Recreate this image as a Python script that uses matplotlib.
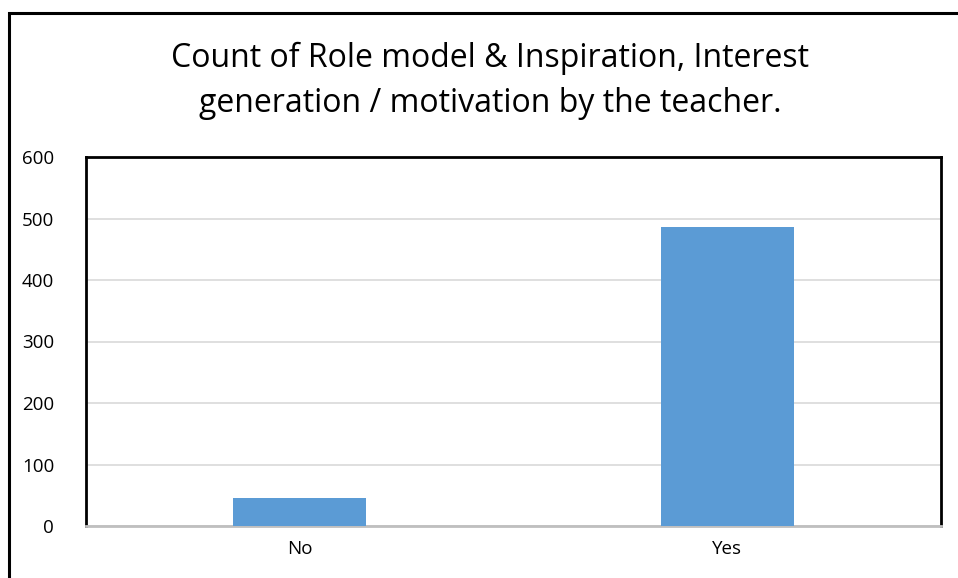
import matplotlib.pyplot as plt
from matplotlib.patches import Rectangle

# data
categories = ["No", "Yes"]
counts = [46, 486]
yticks = [0, 100, 200, 300, 400, 500, 600]

plt.rcParams['font.family'] = ['Open Sans', 'DejaVu Sans']

W, H = 958, 578
fig = plt.figure(figsize=(W / 100, H / 100), dpi=100)

# outer chart border (runs off the right and bottom edges)
fig.patches.append(Rectangle((9 / W, -0.1), 1.2, 1 - 13 / H + 0.1,
                             transform=fig.transFigure, fill=False,
                             edgecolor='black', linewidth=2.2))

left, right, top, bottom = 86, 941, 157, 526
ax = fig.add_axes([left / W, 1 - bottom / H, (right - left) / W, (bottom - top) / H])

ax.bar(range(len(categories)), counts, width=0.31, color='#5B9BD5', zorder=3)
ax.set_xlim(-0.5, 1.5)
ax.set_ylim(0, 600)
ax.set_yticks(yticks)
ax.set_xticks(range(len(categories)))
ax.set_xticklabels(categories)
ax.yaxis.grid(True, color='#D9D9D9', linewidth=1.2, zorder=0)
ax.tick_params(axis='both', length=0, labelsize=13.5, colors='black')
ax.tick_params(axis='y', pad=23)
ax.tick_params(axis='x', pad=10)
for s in ['left', 'right', 'top']:
    ax.spines[s].set_color('black')
    ax.spines[s].set_linewidth(2)
ax.spines['bottom'].set_color('#BFBFBF')
ax.spines['bottom'].set_linewidth(2)

fig.text(490 / W, 1 - 58 / H, "Count of Role model & Inspiration, Interest",
         ha='center', va='center', fontsize=23)
fig.text(490 / W, 1 - 104 / H, "generation / motivation by the teacher.",
         ha='center', va='center', fontsize=23)

fig.savefig("out.png", dpi=100)
